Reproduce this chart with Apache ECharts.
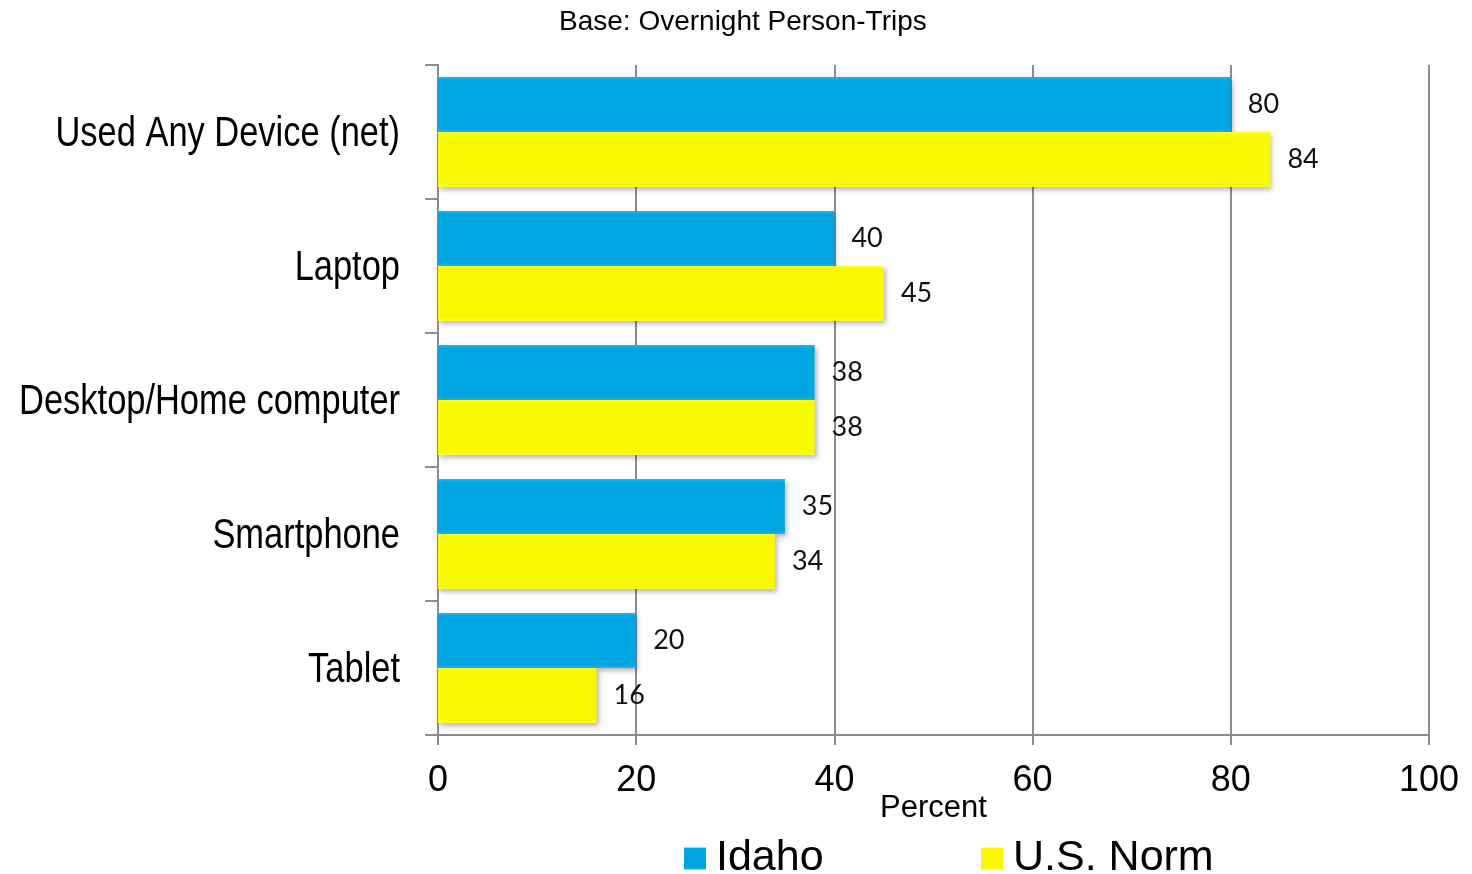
<!DOCTYPE html>
<html>
<head>
<meta charset="utf-8">
<script src="https://cdn.jsdelivr.net/npm/echarts@6/dist/echarts.min.js"></script>
<style>
  html, body { margin: 0; padding: 0; background: #fff; }
  #chart { width: 1472px; height: 874px; }
</style>
</head>
<body>
<div id="chart"></div>
<script>
// Device usage on overnight trips, Idaho vs. U.S. norm (percent)
const categories = ['Used Any Device (net)', 'Laptop', 'Desktop/Home computer', 'Smartphone', 'Tablet'];
const idahoValues = [80, 40, 38, 35, 20];
const usNormValues = [84, 45, 38, 34, 16];
const xTicks = [0, 20, 40, 60, 80, 100];

const BLUE = '#00A6E1';
const YELLOW = '#F8F800';
const GRID_GRAY = '#8c8c8c';
const SANS = '"Liberation Sans", Arial, sans-serif';

const chart = echarts.init(document.getElementById('chart'));

function barSeries(name, values, color, edge) {
  return {
    name: name,
    type: 'bar',
    data: values,
    barGap: '0%',
    barCategoryGap: '18%',
    itemStyle: {
      color: {
        type: 'linear', x: 0, y: 0, x2: 0, y2: 1,
        colorStops: [
          { offset: 0, color: edge },
          { offset: 0.06, color: color },
          { offset: 0.94, color: color },
          { offset: 1, color: edge }
        ]
      },
      shadowColor: 'rgba(0,0,0,0.28)',
      shadowBlur: 5,
      shadowOffsetX: 2,
      shadowOffsetY: 3
    },
    label: {
      show: true,
      position: 'right',
      distance: 17,
      color: '#111',
      fontFamily: 'Lato, "Noto Sans", sans-serif',
      fontSize: 27,
      padding: [4, 0, 0, 0]
    }
  };
}

chart.setOption({
  animation: false,
  backgroundColor: '#ffffff',
  title: {
    text: 'Base: Overnight Person-Trips',
    left: 554,
    top: 3,
    textStyle: { fontFamily: SANS, fontSize: 28, fontWeight: 'normal', color: '#000' }
  },
  legend: [
    {
      data: ['Idaho'],
      left: 679,
      top: 832,
      icon: 'rect',
      itemWidth: 22,
      itemHeight: 22,
      textStyle: { fontFamily: SANS, fontSize: 43, color: '#000', padding: [0, 0, 0, 5] }
    },
    {
      data: ['U.S. Norm'],
      left: 976,
      top: 832,
      icon: 'rect',
      itemWidth: 22,
      itemHeight: 22,
      textStyle: { fontFamily: SANS, fontSize: 43, color: '#000', padding: [0, 0, 0, 5] }
    }
  ],
  grid: { left: 438, right: 43, top: 65, bottom: 139, containLabel: false, outerBoundsMode: 'none' },
  xAxis: {
    type: 'value',
    min: xTicks[0],
    max: xTicks[xTicks.length - 1],
    interval: 20,
    name: 'Percent',
    nameLocation: 'middle',
    nameGap: 58,
    nameMoveOverlap: false,
    nameTextStyle: { fontFamily: SANS, fontSize: 31, color: '#000' },
    axisLine: { show: true, lineStyle: { color: GRID_GRAY, width: 2 } },
    axisTick: { show: true, length: 10, lineStyle: { color: GRID_GRAY, width: 2 } },
    axisLabel: {
      margin: 28,
      fontFamily: SANS,
      fontSize: 36,
      color: '#000',
      formatter: function (v) { return xTicks.indexOf(v) >= 0 ? String(v) : ''; }
    },
    splitLine: { show: true, lineStyle: { color: GRID_GRAY, width: 2 } }
  },
  yAxis: {
    type: 'category',
    data: categories,
    inverse: true,
    axisLine: { show: true, lineStyle: { color: GRID_GRAY, width: 2 } },
    axisTick: { show: true, length: 13, lineStyle: { color: GRID_GRAY, width: 2 } },
    // category names are drawn below as condensed text
    axisLabel: { show: false },
    splitLine: { show: false }
  },
  series: [
    barSeries('Idaho', idahoValues, BLUE, '#1fb8ee'),
    barSeries('U.S. Norm', usNormValues, YELLOW, '#ffff30')
  ]
});

// Condensed category names, right-aligned at each category's centre on the y axis
const labelRight = 400;
chart.setOption({
  graphic: categories.map(function (name) {
    const y = chart.convertToPixel({ yAxisIndex: 0 }, name);
    return {
      type: 'text',
      x: labelRight,
      y: y + 2,
      originX: 0,
      originY: 0,
      scaleX: 0.82,
      style: {
        text: name,
        fontFamily: SANS,
        fontSize: 42,
        fill: '#000',
        align: 'right',
        verticalAlign: 'middle'
      }
    };
  })
});
</script>
</body>
</html>
